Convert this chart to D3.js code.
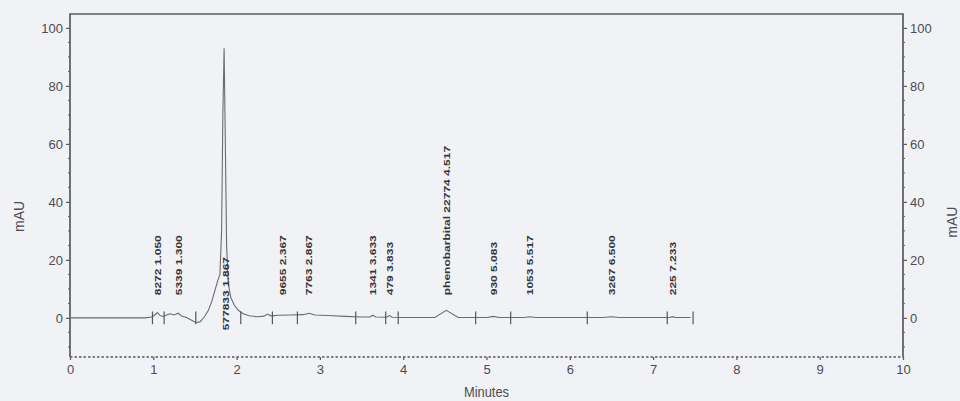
<!DOCTYPE html>
<html>
<head>
<meta charset="utf-8">
<script src="https://cdn.jsdelivr.net/npm/d3@7/dist/d3.min.js"></script>
<style>
  html, body { margin: 0; padding: 0; background: #f1f2f6; }
  svg { display: block; }
</style>
</head>
<body>
<svg id="chart" width="960" height="401"></svg>
<script>
// Detector trace (retention time in minutes, absorbance in mAU)
const traceMinutes = [0, 0.90, 0.98, 1.02, 1.05, 1.08, 1.12, 1.16, 1.20, 1.25, 1.30, 1.34, 1.40, 1.46, 1.51, 1.56, 1.61, 1.66, 1.70, 1.74, 1.77, 1.80, 1.82, 1.835, 1.85, 1.865, 1.88, 1.90, 1.93, 1.97, 2.02, 2.08, 2.15, 2.25, 2.33, 2.37, 2.41, 2.50, 2.65, 2.80, 2.87, 2.94, 3.10, 3.30, 3.50, 3.60, 3.633, 3.67, 3.80, 3.833, 3.87, 4.00, 4.30, 4.38, 4.517, 4.66, 4.75, 5.00, 5.083, 5.15, 5.45, 5.517, 5.60, 6.00, 6.40, 6.50, 6.60, 7.00, 7.20, 7.233, 7.27, 7.45];
const traceMAU     = [0, 0,    0.3,  1.0,  1.8,  0.8,  0.5,  1.0,  1.4,  1.0,  1.6,  0.6,  0.1,  -0.8, -1.6, -1.4, 0.2,  2.5,  5.5,  9.5,  12.5, 15,   30,   70,    93,   60,    25,   12,   7,    4.5,  2.6,  1.4,  0.7,  0.4,  0.6,  1.3,  0.7,  0.9,  1.0,  1.1,  1.6,  1.0,  0.8,  0.5,  0.3,  0.3,  0.9,   0.3,  0.2,  0.8,   0.2,  0.1,  0.1,  0.1,  2.6,   0.1,  0.1,  0.1,  0.5,   0.1,  0.1,  0.4,   0.1,  0.1,  0.1,  0.4,  0.1,  0.1,  0.1,  0.4,   0.1,  0.1];

// Integrated peaks
const peakTimes = [1.050, 1.300, 1.867, 2.367, 2.867, 3.633, 3.833, 4.517, 5.083, 5.517, 6.500, 7.233];
const peakAreas = [8272, 5339, 577833, 9655, 7763, 1341, 479, 22774, 930, 1053, 3267, 225];
const peakNames = ["", "", "", "", "", "", "", "phenobarbital", "", "", "", ""];

// Integration start/stop marks
const markTimes = [0.99, 1.13, 1.51, 2.05, 2.43, 2.73, 3.43, 3.79, 3.94, 4.87, 5.29, 6.21, 7.17, 7.48];

// Axis ticks
const xTicks = [0, 1, 2, 3, 4, 5, 6, 7, 8, 9, 10];
const yTicks = [0, 20, 40, 60, 80, 100];

const svg = d3.select("#chart");
const plot = { left: 70, right: 903, top: 14, bottom: 357 };

const x = d3.scaleLinear().domain([0, 10]).range([plot.left, plot.right]);
const y = d3.scaleLinear().domain([-13.5, 104.8]).range([plot.bottom, plot.top]);

const ink = "#5a5a5e";
const textInk = "#4c4c52";

// frame: solid on three sides, dashed along the time axis
const frame = svg.append("g").attr("stroke", ink).attr("stroke-width", 1.7).attr("fill", "none");
frame.append("path").attr("d", `M${plot.left},${plot.bottom}V${plot.top}H${plot.right}V${plot.bottom}`);
frame.append("line")
  .attr("x1", plot.left).attr("x2", plot.right).attr("y1", plot.bottom).attr("y2", plot.bottom)
  .attr("stroke-width", 1.3).attr("stroke-dasharray", "2.5,2");

// y axes on both sides
const yLeft = d3.axisLeft(y).tickValues(yTicks).tickSize(4).tickPadding(3);
const yRight = d3.axisRight(y).tickValues(yTicks).tickSize(4).tickPadding(3);
const xAxis = d3.axisBottom(x).tickValues(xTicks).tickSize(3).tickPadding(5);

function styleAxis(g) {
  g.select(".domain").remove();
  g.selectAll(".tick line").attr("stroke", ink).attr("stroke-width", 1.2);
  g.selectAll(".tick text")
    .attr("fill", textInk)
    .style("font-family", "'Liberation Sans', Arial, sans-serif")
    .style("font-size", "13px");
}

svg.append("g").attr("transform", `translate(${plot.left},0)`).call(yLeft).call(styleAxis);
svg.append("g").attr("transform", `translate(${plot.right},0)`).call(yRight).call(styleAxis);
svg.append("g").attr("transform", `translate(0,${plot.bottom})`).call(xAxis).call(styleAxis);

// minor ticks on the mAU axes
const minor = d3.range(-10, 105, 5).filter(v => v % 20 !== 0);
svg.append("g").selectAll("line").data(minor).join("line")
  .attr("x1", plot.left - 2).attr("x2", plot.left).attr("y1", d => y(d)).attr("y2", d => y(d))
  .attr("stroke", ink).attr("stroke-width", 1);
svg.append("g").selectAll("line").data(minor).join("line")
  .attr("x1", plot.right).attr("x2", plot.right + 2).attr("y1", d => y(d)).attr("y2", d => y(d))
  .attr("stroke", ink).attr("stroke-width", 1);

// axis titles
const titleFont = "'Liberation Sans', Arial, sans-serif";
svg.append("text")
  .attr("transform", `translate(${plot.left + (plot.right - plot.left) / 2},${plot.bottom + 40}) scale(0.92,1)`)
  .attr("text-anchor", "middle")
  .attr("fill", textInk).style("font-family", titleFont).style("font-size", "14px")
  .text("Minutes");
svg.append("text")
  .attr("transform", `translate(24,${y(35)}) rotate(-90)`)
  .attr("text-anchor", "middle")
  .attr("fill", textInk).style("font-family", titleFont).style("font-size", "14px")
  .text("mAU");
svg.append("text")
  .attr("transform", `translate(957,${y(33)}) rotate(-90)`)
  .attr("text-anchor", "middle")
  .attr("fill", textInk).style("font-family", titleFont).style("font-size", "14px")
  .text("mAU");

// chromatogram trace
const trace = traceMinutes.map((t, i) => [t, traceMAU[i]]);
svg.append("path")
  .datum(trace)
  .attr("fill", "none")
  .attr("stroke", "#6a6a70")
  .attr("stroke-width", 1.1)
  .attr("d", d3.line().x(d => x(d[0])).y(d => y(d[1])));

// integration marks across the baseline
svg.append("g").selectAll("line").data(markTimes).join("line")
  .attr("x1", d => x(d)).attr("x2", d => x(d))
  .attr("y1", y(2.2)).attr("y2", y(-2.2))
  .attr("stroke", "#55555a").attr("stroke-width", 1.2);

// peak annotations: area and retention time, written upward;
// crowded labels are shifted sideways, the main peak's label hangs across the baseline
const peaks = peakTimes.map((t, i) => ({
  time: t, area: peakAreas[i], name: peakNames[i],
  label: (peakNames[i] ? peakNames[i] + " " : "") + peakAreas[i] + " " + t.toFixed(3)
}));
svg.append("g").selectAll("text").data(peaks).join("text")
  .attr("transform", d => {
    const lift = d.time === 1.867 ? -4.3 : 7.8;
    const shift = d.time === 2.367 ? 15 : 0;
    return `translate(${x(d.time) + shift},${y(lift)}) rotate(-90) scale(1,0.8)`;
  })
  .attr("dominant-baseline", "central")
  .attr("fill", "#36363a")
  .style("font-family", "'Liberation Sans', Arial, sans-serif")
  .style("font-weight", "bold")
  .style("font-size", "12px")
  .text(d => d.label);
</script>
</body>
</html>
